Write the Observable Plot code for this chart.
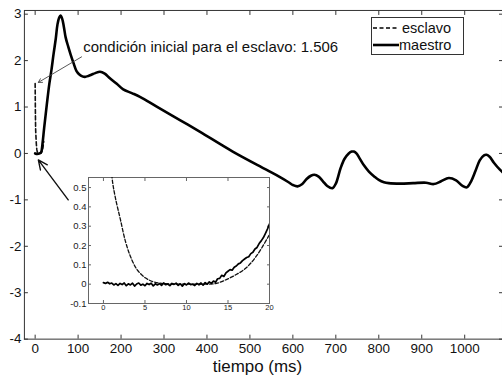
<!DOCTYPE html>
<html>
<head>
<meta charset="utf-8">
<script src="https://cdn.jsdelivr.net/npm/d3@7"></script>
<script src="https://cdn.jsdelivr.net/npm/@observablehq/plot@0.6"></script>
<style>
  html, body { margin: 0; padding: 0; background: #fff; overflow: hidden; }
  #wrap { position: relative; width: 502px; height: 379px; overflow: hidden; font-family: "Liberation Sans", Arial, sans-serif; }
  #main { position: absolute; left: 0; top: 0; }
  #inset { position: absolute; left: 60px; top: 168px; width: 225px; height: 150px; overflow: hidden; }
  #legend { position: absolute; left: 371px; top: 17px; width: 91px; height: 36px; border: 1px solid #333; background: #fff; }
</style>
</head>
<body>
<div id="wrap">
  <div id="main"></div>
  <div id="inset"></div>
  <div id="legend"></div>
</div>
<script>
// ---- main chart data (tiempo in ms) ----
const xTicks = [0, 100, 200, 300, 400, 500, 600, 700, 800, 900, 1000];
const yTicks = [-4, -3, -2, -1, 0, 1, 2, 3];

const maestroT = [0, 5, 10, 14, 17, 21, 27, 33, 38, 43, 48, 52, 56, 59, 63, 67, 71, 77, 83, 90, 96, 103, 110, 116, 124, 132, 140, 151, 162, 174, 190, 205, 225, 244, 283, 337, 383, 460, 538, 568, 590, 600, 611, 622, 632, 642, 650, 660, 670, 680, 692, 700, 711, 720, 730, 737, 742, 748, 755, 765, 777, 790, 800, 812, 823, 850, 880, 910, 928, 945, 963, 980, 995, 1005, 1015, 1025, 1035, 1045, 1051, 1058, 1068, 1082, 1090];
const maestroV = [0.0, -0.01, 0.0, 0.03, 0.2, 0.55, 1.04, 1.5, 1.8, 2.15, 2.47, 2.78, 2.93, 2.97, 2.9, 2.72, 2.5, 2.3, 2.12, 1.93, 1.78, 1.7, 1.66, 1.65, 1.67, 1.7, 1.73, 1.76, 1.72, 1.62, 1.5, 1.38, 1.3, 1.22, 1.01, 0.72, 0.47, 0.04, -0.35, -0.5, -0.62, -0.68, -0.71, -0.66, -0.55, -0.48, -0.46, -0.5, -0.6, -0.7, -0.75, -0.65, -0.32, -0.12, 0.0, 0.04, 0.04, 0.0, -0.1, -0.25, -0.39, -0.5, -0.57, -0.62, -0.64, -0.65, -0.64, -0.63, -0.66, -0.6, -0.53, -0.58, -0.7, -0.73, -0.6, -0.38, -0.15, -0.04, -0.03, -0.07, -0.2, -0.35, -0.42];

const esclavoT = [0, 0.5, 1.04, 1.44, 2.04, 2.64, 3.24, 4.04, 5.04, 6.03, 7, 8, 10, 12, 13.6, 14.8, 16, 17.2, 18.5, 20];
const esclavoV = [1.506, 0.95, 0.55, 0.447, 0.335, 0.223, 0.145, 0.076, 0.033, 0.012, 0.004, 0.001, 0, 0, 0.004, 0.024, 0.05, 0.085, 0.15, 0.257];

// ---- inset data ----
const insetXTicks = [0, 5, 10, 15, 20];
const insetYTicks = [-0.1, 0, 0.1, 0.2, 0.3, 0.4, 0.5];
const maestroInsetT = [0, 0.25, 0.5, 0.75, 1, 1.25, 1.5, 1.75, 2, 2.25, 2.5, 2.75, 3, 3.25, 3.5, 3.75, 4, 4.25, 4.5, 4.75, 5, 5.25, 5.5, 5.75, 6, 6.25, 6.5, 6.75, 7, 7.25, 7.5, 7.75, 8, 8.25, 8.5, 8.75, 9, 9.25, 9.5, 9.75, 10, 10.25, 10.5, 10.75, 11, 11.25, 11.5, 11.75, 12, 12.25, 12.5, 12.75, 13, 13.25, 13.5, 13.75, 14, 14.25, 14.5, 14.75, 15, 15.25, 15.5, 15.75, 16, 16.25, 16.5, 16.75, 17, 17.25, 17.5, 17.75, 18, 18.25, 18.5, 18.75, 19, 19.25, 19.5, 19.75, 20];
const maestroInsetV = [0.008, 0.004, 0.010, 0.002, 0.006, -0.004, 0.003, -0.006, 0.004, -0.002, 0.006, -0.008,
  0.002, -0.004, 0.005, -0.010, 0.001, 0.006, -0.005, 0.000, -0.008, 0.004, -0.002, 0.005,
  -0.009, 0.002, -0.004, 0.003, -0.006, 0.006, -0.003, 0.001, -0.008, 0.004, -0.001, 0.005,
  -0.006, 0.002, -0.010, 0.003, -0.004, 0.006, -0.002, 0.000, -0.007, 0.004, -0.003, 0.006,
  -0.005, 0.008, 0.000, 0.012, 0.004, 0.016, 0.010, 0.028,
  0.030, 0.046, 0.040, 0.058, 0.067, 0.075, 0.072, 0.088,
  0.094, 0.105, 0.110, 0.122, 0.130, 0.138, 0.142, 0.158,
  0.165, 0.182, 0.190, 0.210, 0.224, 0.240, 0.262, 0.285, 0.312];

// ---- annotations ----
const annotText = ["condición inicial para el esclavo: 1.506"];
const annotPos = [112, 2.29];
const arrowThin = [108, 2.08, 7.4, 1.53];   // x1, y1, x2, y2
const arrowBold = [77, -1.0, 7.4, -0.14];
const xLabel = "tiempo (ms)";
const legendLabels = ["esclavo", "maestro"];

const maestro = maestroT.map((t, i) => ({t, v: maestroV[i]}));
const esclavo = esclavoT.map((t, i) => ({t, v: esclavoV[i]}));
const maestroInset = maestroInsetT.map((t, i) => ({t, v: maestroInsetV[i]}));

const fmt = d => String(d);
const none = () => "";
const font = "Liberation Sans, Arial, Helvetica, sans-serif";

const main = Plot.plot({
  width: 504, height: 379,
  marginLeft: 24, marginRight: 0, marginTop: 10, marginBottom: 39,
  x: {domain: [-25, 1088]},
  y: {domain: [-4, 3.08]},
  style: {fontFamily: font, fontSize: "13.5px", color: "#111", background: "white"},
  marks: [
    Plot.frame({stroke: "#333", strokeWidth: 1}),
    Plot.axisX({ticks: xTicks, tickSize: 0, tickPadding: 4, tickFormat: fmt, label: null}),
    Plot.axisX({ticks: xTicks, tickSize: -4, tickFormat: none, label: null, stroke: "#333"}),
    Plot.axisX({anchor: "top", ticks: xTicks, tickSize: -4, tickFormat: none, label: null, stroke: "#333"}),
    Plot.axisY({ticks: yTicks, tickSize: 0, tickPadding: 3, tickFormat: fmt, label: null}),
    Plot.axisY({ticks: yTicks, tickSize: -4, tickFormat: none, label: null, stroke: "#333"}),
    Plot.axisY({anchor: "right", ticks: yTicks, tickSize: -4, tickFormat: none, label: null, stroke: "#333"}),
    Plot.line(esclavo, {x: "t", y: "v", stroke: "#111", strokeWidth: 1.6, strokeDasharray: "4,2.5"}),
    Plot.line(maestro, {x: "t", y: "v", stroke: "#000", strokeWidth: 2.6, curve: "catmull-rom", strokeLinejoin: "round"}),
    Plot.arrow([arrowThin], {x1: d => d[0], y1: d => d[1], x2: d => d[2], y2: d => d[3], stroke: "#444", strokeWidth: 0.9, headLength: 7}),
    Plot.arrow([arrowBold], {x1: d => d[0], y1: d => d[1], x2: d => d[2], y2: d => d[3], stroke: "#111", strokeWidth: 1.4, headLength: 11, headAngle: 50}),
    Plot.text(annotText, {x: () => annotPos[0], y: () => annotPos[1], text: d => d, textAnchor: "start", fontSize: 15, fill: "#111"}),
    Plot.text([xLabel], {frameAnchor: "bottom", lineAnchor: "middle", text: d => d, dy: 28, dx: -6, fontSize: 17, fill: "#111"})
  ]
});
document.getElementById("main").appendChild(main);

const inset = Plot.plot({
  width: 222, height: 165,
  marginLeft: 28, marginRight: 13, marginTop: 9, marginBottom: 30,
  x: {domain: [-1.8, 20]},
  y: {domain: [-0.1, 0.552]},
  style: {fontFamily: font, fontSize: "9.5px", color: "#222", background: "transparent"},
  marks: [
    Plot.frame({fill: "white", stroke: "#666", strokeWidth: 1}),
    Plot.axisX({ticks: insetXTicks, tickSize: 0, tickPadding: 1, tickFormat: fmt, label: null, fontSize: 7.5}),
    Plot.axisX({ticks: insetXTicks, tickSize: -3, tickFormat: none, label: null, stroke: "#666"}),
    Plot.axisX({anchor: "top", ticks: insetXTicks, tickSize: -3, tickFormat: none, label: null, stroke: "#666"}),
    Plot.axisY({ticks: insetYTicks, tickSize: 0, tickPadding: 2, tickFormat: fmt, label: null}),
    Plot.axisY({ticks: insetYTicks, tickSize: -3, tickFormat: none, label: null, stroke: "#666"}),
    Plot.axisY({anchor: "right", ticks: insetYTicks, tickSize: -3, tickFormat: none, label: null, stroke: "#666"}),
    Plot.line(esclavo, {x: "t", y: "v", stroke: "#111", strokeWidth: 1.3, strokeDasharray: "3.5,2", curve: "catmull-rom", clip: true}),
    Plot.line(maestroInset, {x: "t", y: "v", stroke: "#000", strokeWidth: 1.7, clip: true})
  ]
});
document.getElementById("inset").appendChild(inset);

// legend
const leg = d3.select("#legend").append("svg").attr("width", 91).attr("height", 36)
  .style("font-family", font).style("font-size", "14.5px");
const rows = [{y: 10, dash: "4,2.5", label: legendLabels[0], tx: 30}, {y: 27, dash: null, label: legendLabels[1], tx: 27}];
rows.forEach(r => {
  leg.append("line").attr("x1", 1).attr("x2", 27).attr("y1", r.y).attr("y2", r.y)
    .attr("stroke", "#000").attr("stroke-width", r.dash ? 1.6 : 2.6).attr("stroke-dasharray", r.dash);
  leg.append("text").attr("x", r.tx).attr("y", r.y).attr("dy", "0.35em").attr("fill", "#111").text(r.label);
});
</script>
</body>
</html>
